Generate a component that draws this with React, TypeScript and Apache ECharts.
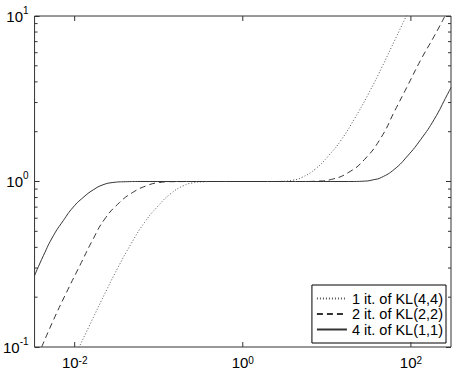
import React, { useEffect, useRef } from "react";
import * as echarts from "echarts";

const X_MIN = 1 / 300;
const X_MAX = 300;
const Y_MIN = 0.1;
const Y_MAX = 10;

const seriesNames = ["1 it. of KL(4,4)", "2 it. of KL(2,2)", "4 it. of KL(1,1)"];

// 1 it. of KL(4,4) — dotted
const dottedData: number[][] = [
  [0.0112, 0.099], [0.01585, 0.143], [0.0224, 0.206], [0.0324, 0.299], [0.0468, 0.42],
  [0.0676, 0.565], [0.0955, 0.7], [0.138, 0.843], [0.1995, 0.946], [0.251, 0.98],
  [0.347, 0.997], [0.5, 1.0], [1, 1], [2, 1.0], [2.88, 1.003], [3.98, 1.02], [5.01, 1.057],
  [7.24, 1.186], [10.47, 1.43], [14.8, 1.78], [21.4, 2.4], [30.9, 3.35], [44.7, 4.85],
  [63.1, 7.0], [89.1, 10.1],
];

// 2 it. of KL(2,2) — dashed
const dashedData: number[][] = [
  [0.00405, 0.1], [0.00557, 0.145], [0.008, 0.214], [0.0115, 0.31], [0.01656, 0.449],
  [0.02275, 0.593], [0.0342, 0.747], [0.0491, 0.859], [0.0706, 0.94], [0.1016, 0.986],
  [0.15, 0.998], [0.3, 1.0], [1, 1], [5, 1.0], [8, 1.006], [11.4, 1.03], [17.9, 1.13],
  [28.1, 1.36], [44.4, 1.85], [63.7, 2.65], [91.6, 3.8], [131.5, 5.45], [189, 7.54],
  [257, 10.1],
];

// 4 it. of KL(1,1) — solid
const solidData: number[][] = [
  [0.00333, 0.27], [0.00424, 0.356], [0.00557, 0.47], [0.00731, 0.58], [0.0096, 0.7],
  [0.0126, 0.8], [0.0166, 0.89], [0.0217, 0.955], [0.0285, 0.986], [0.04, 0.997],
  [0.06, 1.0], [1, 1], [18, 1.0], [28, 1.005], [36, 1.025], [44.4, 1.057], [63.7, 1.186],
  [91.6, 1.43], [131.5, 1.8], [189, 2.37], [272, 3.36], [300, 3.7],
];

const xTickValues = [0.01, 1, 100];
const xTickExponents = ["-2", "0", "2"];
const yTickValues = [0.1, 1, 10];
const yTickExponents = ["-1", "0", "1"];
const yMinorTickValues = [0.2, 0.3, 0.4, 0.5, 0.6, 0.7, 0.8, 0.9, 2, 3, 4, 5, 6, 7, 8, 9];

const FONT = "'Liberation Sans', Arial, Helvetica, sans-serif";
const AXIS_COLOR = "#333";

// y-axis labels: block centred on the tick, base "10" centred, exponent raised
const richY = {
  b: { fontSize: 15, lineHeight: 18, fontFamily: FONT, color: "#000", verticalAlign: "middle" },
  s: { fontSize: 10, lineHeight: 10, padding: [0, 0, 12, 0], fontFamily: FONT, color: "#000", verticalAlign: "middle" },
};

// x-axis labels: block anchored at its bottom, exponent on top
const richX = {
  b: { fontSize: 15, lineHeight: 14, fontFamily: FONT, color: "#000", verticalAlign: "bottom" },
  s: { fontSize: 10, lineHeight: 10, padding: [0, 0, 8, 0], fontFamily: FONT, color: "#000", verticalAlign: "top" },
};

export default function App() {
  const ref = useRef<HTMLDivElement>(null);

  useEffect(() => {
    document.body.style.margin = "0";
    if (!ref.current) return;
    const chart = echarts.init(ref.current, null, { renderer: "svg" });

    const yAxisCommon = {
      type: "log" as const,
      logBase: 10,
      min: Y_MIN,
      max: Y_MAX,
      axisLine: { show: false },
      splitLine: { show: false },
      axisTick: { show: true, inside: true, length: 5, lineStyle: { color: AXIS_COLOR, width: 1 } },
    };

    chart.setOption({
      animation: false,
      backgroundColor: "#fff",
      grid: {
        left: 31,
        top: 16,
        width: 420,
        height: 331,
        show: true,
        borderColor: AXIS_COLOR,
        borderWidth: 1,
        backgroundColor: "transparent",
        containLabel: false,
      },
      xAxis: {
        type: "log",
        logBase: 10,
        min: X_MIN,
        max: X_MAX,
        axisLine: { show: false },
        axisTick: { show: false },
        axisLabel: { show: false },
        splitLine: { show: false },
      },
      yAxis: [
        {
          ...yAxisCommon,
          position: "left",
          axisLabel: {
            margin: 6,
            formatter: (val: number) => {
              let idx = 0;
              let best = Infinity;
              yTickValues.forEach((t, i) => {
                const d = Math.abs(Math.log10(t) - Math.log10(val));
                if (d < best) { best = d; idx = i; }
              });
              return `{b|10}{s|${yTickExponents[idx]}}`;
            },
            rich: richY,
          },
        },
        {
          ...yAxisCommon,
          position: "right",
          axisLabel: { show: false },
        },
      ],
      legend: {
        orient: "vertical",
        right: 12,
        bottom: 27,
        data: seriesNames,
        itemWidth: 30,
        itemHeight: 14,
        itemGap: 0.5,
        padding: [6, 3, 6, 4],
        borderColor: "#000",
        borderWidth: 1,
        borderRadius: 0,
        backgroundColor: "#fff",
        itemStyle: { opacity: 0 },
        textStyle: { fontSize: 14.5, color: "#000", fontFamily: FONT },
      },
      series: [
        {
          name: seriesNames[0],
          type: "line",
          data: dottedData,
          symbol: "none",
          smooth: 0.5,
          lineStyle: { color: "#555", width: 1, type: [1, 2] },
          itemStyle: { color: "#555" },
        },
        {
          name: seriesNames[1],
          type: "line",
          data: dashedData,
          symbol: "none",
          smooth: 0.5,
          lineStyle: { color: "#333", width: 1, type: [6, 4] },
          itemStyle: { color: "#333" },
        },
        {
          name: seriesNames[2],
          type: "line",
          data: solidData,
          symbol: "none",
          smooth: 0.5,
          lineStyle: { color: "#333", width: 1, type: "solid" },
          itemStyle: { color: "#333" },
        },
        {
          name: "xTicks",
          type: "custom",
          silent: true,
          clip: false,
          z: 10,
          data: xTickValues.map((v, i) => [v, Y_MIN, i]),
          renderItem: (params: any, api: any) => {
            const p = api.coord([api.value(0), Y_MIN]);
            const cs = params.coordSys;
            const idx = api.value(2);
            const bottom = cs.y + cs.height;
            return {
              type: "group",
              children: [
                {
                  type: "line",
                  shape: { x1: p[0], y1: bottom, x2: p[0], y2: bottom - 5 },
                  style: { stroke: AXIS_COLOR, lineWidth: 1 },
                },
                {
                  type: "line",
                  shape: { x1: p[0], y1: cs.y, x2: p[0], y2: cs.y + 5 },
                  style: { stroke: AXIS_COLOR, lineWidth: 1 },
                },
                {
                  type: "text",
                  x: p[0],
                  y: 369.5,
                  style: {
                    text: `{b|10}{s|${xTickExponents[idx]}}`,
                    rich: richX,
                    align: "center",
                    verticalAlign: "bottom",
                    fill: "#000",
                  },
                },
              ],
            };
          },
        },
        {
          name: "yMinorTicks",
          type: "custom",
          silent: true,
          clip: false,
          z: 10,
          data: yMinorTickValues.map((v) => [X_MIN, v]),
          renderItem: (params: any, api: any) => {
            const p = api.coord([X_MIN, api.value(1)]);
            const cs = params.coordSys;
            const right = cs.x + cs.width;
            return {
              type: "group",
              children: [
                {
                  type: "line",
                  shape: { x1: cs.x, y1: p[1], x2: cs.x + 3, y2: p[1] },
                  style: { stroke: AXIS_COLOR, lineWidth: 1 },
                },
                {
                  type: "line",
                  shape: { x1: right, y1: p[1], x2: right - 3, y2: p[1] },
                  style: { stroke: AXIS_COLOR, lineWidth: 1 },
                },
              ],
            };
          },
        },
      ],
    });

    return () => {
      chart.dispose();
    };
  }, []);

  return (
    <div
      ref={ref}
      style={{ width: 458, height: 370, position: "absolute", left: 0, top: 0 }}
    />
  );
}
